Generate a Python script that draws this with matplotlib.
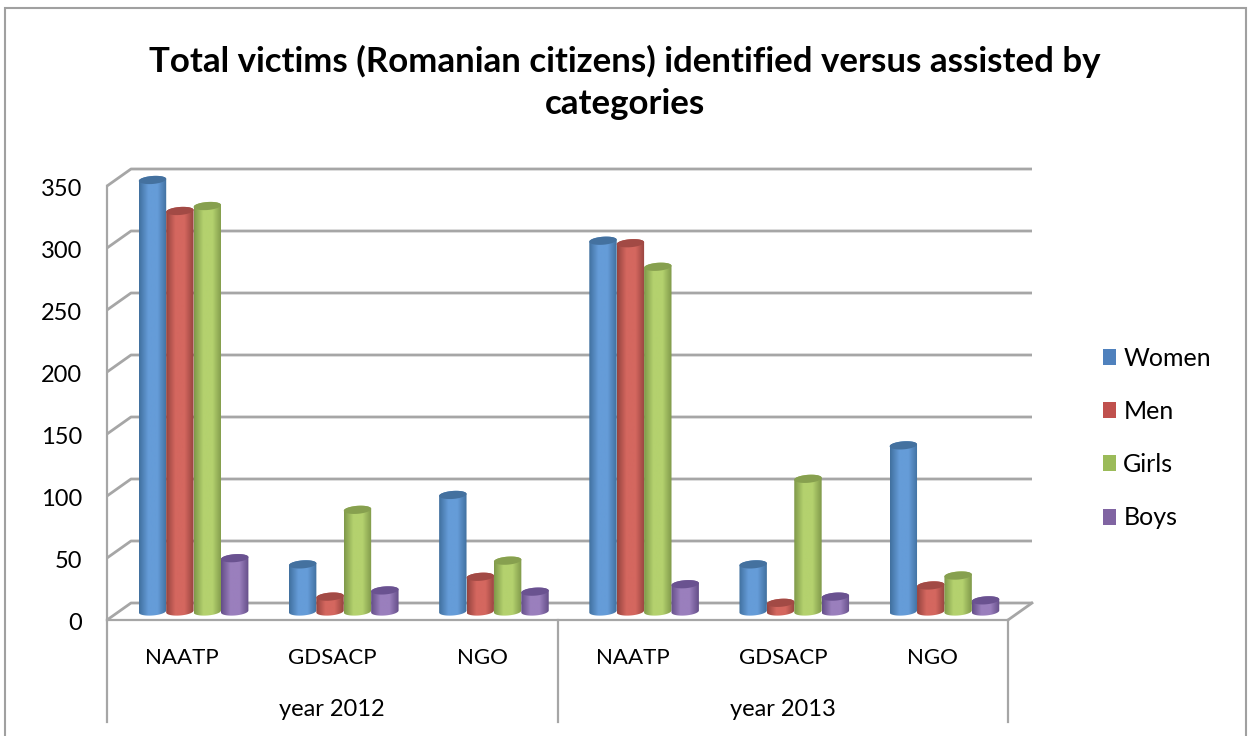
import numpy as np
import matplotlib
matplotlib.use('Agg')
import matplotlib.pyplot as plt
from matplotlib.patches import Patch, PathPatch, Rectangle
from matplotlib.path import Path
from matplotlib.colors import LinearSegmentedColormap
from matplotlib.transforms import ScaledTranslation

plt.rcParams['font.family'] = ['Lato', 'DejaVu Sans']

title = 'Total victims (Romanian citizens) identified versus assisted by\ncategories'
agencies = ['NAATP', 'GDSACP', 'NGO', 'NAATP', 'GDSACP', 'NGO']
years = ['year 2012', 'year 2013']
yticks = [0, 50, 100, 150, 200, 250, 300, 350]

women = [348, 38, 94, 299, 38, 134]
men = [323, 12, 28, 297, 7, 21]
girls = [327, 82, 41, 278, 107, 29]
boys = [43, 17, 16, 22, 12, 9]

names = ['Women', 'Men', 'Girls', 'Boys']
series = [women, men, girls, boys]
solid = ['#4f81bd', '#c0504d', '#9bbb59', '#8064a2']
edge = ['#41709f', '#96443f', '#7f994a', '#644e88']
light = ['#659cd8', '#d4675f', '#b4d16e', '#9a7fbd']
cap = ['#44719f', '#a24a45', '#87a04f', '#6a5290']

W, H = 1248, 736
grid_col = '#a6a6a6'

fig = plt.figure(figsize=(W / 100, H / 100), dpi=100, facecolor='white')
# front plane of the 3d box
ax = fig.add_axes([107 / W, (H - 620) / H, 901 / W, 434 / H])
ax.set_xlim(0, 6)
ax.set_ylim(0, 350)
ax.patch.set_visible(False)

px_x = 6 / 901      # data units per pixel
px_y = 350 / 434

# depth offsets, back wall and bar row
back_x, back_y = 24 * px_x, 17 * px_y
row_x, row_y = 11.5 * px_x, 8.5 * px_y

# gridlines on the back wall, slanted bits to the left side
for v in yticks:
    ax.plot([0, back_x, 6 + back_x], [v, v + back_y, v + back_y], color=grid_col,
            lw=2, clip_on=False, zorder=1, solid_capstyle='butt')
ax.plot([6, 6 + back_x], [0, back_y], color=grid_col, lw=2, clip_on=False, zorder=1)

for s in ['top', 'right']:
    ax.spines[s].set_visible(False)
for s in ['left', 'bottom']:
    ax.spines[s].set_color(grid_col)
    ax.spines[s].set_linewidth(1.6)
    ax.spines[s].set_zorder(1.5)

ax.set_yticks(yticks)
ax.set_xticks(np.arange(6) + 0.5)
ax.set_xticklabels(agencies)
ax.tick_params(axis='y', length=0, pad=18, labelsize=17, labelcolor='black')
ax.tick_params(axis='x', length=0, pad=20, labelsize=16, labelcolor='black')
for lab in ax.get_yticklabels():
    lab.set_transform(lab.get_transform() + ScaledTranslation(0, -2 / 100, fig.dpi_scale_trans))

# multi level axis separators and year labels
for x in [0, 3, 6]:
    ax.plot([x, x], [0, -102 * px_y], color=grid_col, lw=1.6, clip_on=False, zorder=1)
for i, yr in enumerate(years):
    ax.text(1.5 + 3 * i, -90 * px_y, yr, ha='center', va='center', fontsize=17, clip_on=False)

bar_w = 27.4 * px_x
gap = (1 - 4 * 27.4 / 150.2) / 2
cap_h = 8 * px_y
tilt = 1 * px_y
t = np.linspace(0, np.pi, 40)


def arc(cx, cy, ang):
    return np.column_stack([cx + bar_w / 2 * np.cos(ang),
                            cy + cap_h / 2 * np.sin(ang) + tilt * np.cos(ang)])


for c, vals in enumerate(series):
    cmap = LinearSegmentedColormap.from_list('c', [edge[c], light[c], light[c], edge[c]])
    grad = np.linspace(0, 1, 64).reshape(1, -1)
    for i, v in enumerate(vals):
        left = i + gap + row_x + c * bar_w
        cx = left + bar_w / 2
        base = row_y
        top = row_y + v
        # body outline: bottom front arc then top back arc
        lower = arc(cx, base, np.pi + t)
        upper = arc(cx, top, t)
        pts = np.vstack([lower, upper, lower[:1]])
        im = ax.imshow(grad, cmap=cmap, aspect='auto', extent=[left, left + bar_w, base - 10, top + 10],
                       zorder=3 + c * 0.1, interpolation='bilinear')
        im.set_clip_box(fig.bbox)
        im.set_clip_path(PathPatch(Path(pts), transform=ax.transData))
        lid = np.vstack([arc(cx, top, t), arc(cx, top, np.pi + t)])
        ax.add_patch(PathPatch(Path(lid), facecolor=cap[c], edgecolor='none', zorder=3.05 + c * 0.1,
                               clip_on=False))
ax.set_xlim(0, 6)
ax.set_ylim(0, 350)

fig.text(625 / W, 1 - 82 / H, title, ha='center', va='center', fontsize=25.1, fontweight='bold',
         linespacing=1.38)

handles = [Patch(facecolor=col, edgecolor='none') for col in solid]
fig.legend(handles, names, loc='center left', bbox_to_anchor=(1080 / W, 1 - 438 / H), frameon=False,
           fontsize=18, labelspacing=1.21, handlelength=0.53, handleheight=0.6, handletextpad=0.3)

# chart area frame
fig.add_artist(Rectangle((5 / W, -10 / H), 1241 / W, (H - 8 + 10) / H, transform=fig.transFigure,
                         facecolor='none', edgecolor='#a0a0a0', lw=1.5))

fig.savefig('out.png', dpi=100)
